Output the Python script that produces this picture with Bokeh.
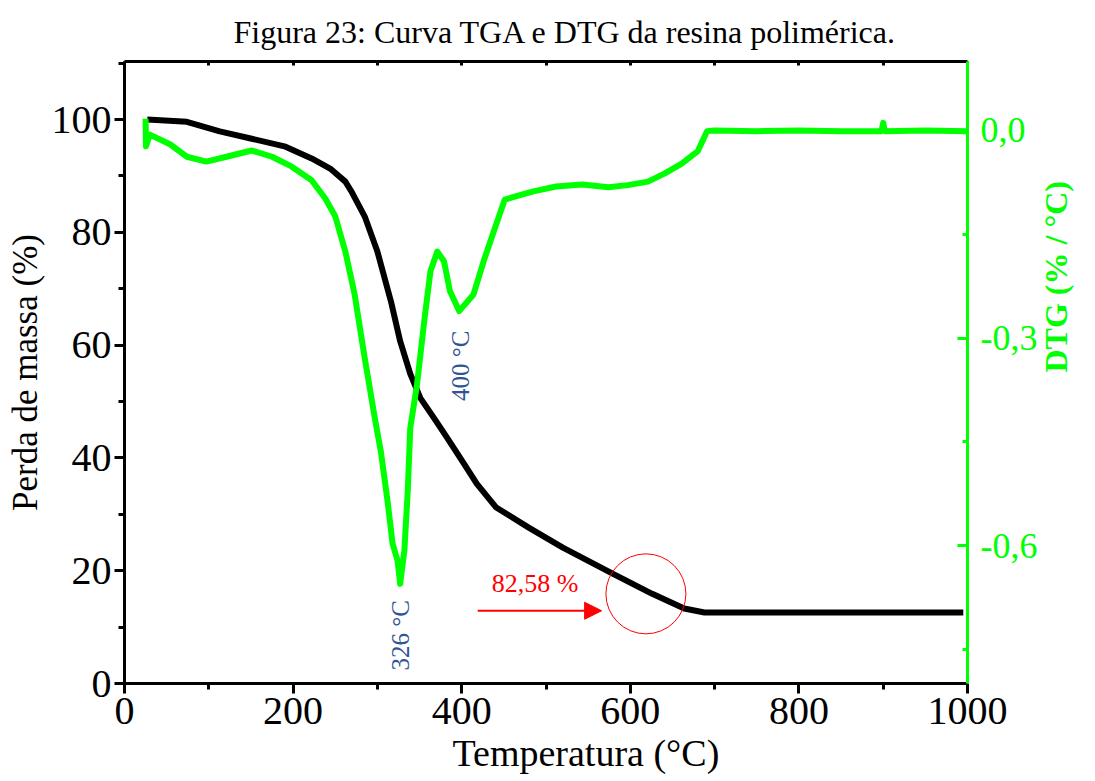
from math import pi

from bokeh.embed import file_html
from bokeh.models import (Arrow, CustomJSTickFormatter, FixedTicker, Label,
                          LinearAxis, NormalHead, Range1d, Title)
from bokeh.plotting import figure
from bokeh.resources import INLINE

# TGA curve: residual mass (%) versus temperature (°C)
temp_tga = [27, 74, 113, 151, 191, 222, 245, 262, 269, 285, 300, 316, 327, 339,
            351, 367, 383, 403, 418, 441, 480, 520, 579, 626, 664, 688, 735, 995]
mass_tga = [100.0, 99.6, 97.9, 96.6, 95.2, 93.1, 91.2, 89.0, 87.3, 82.8, 76.6,
            67.8, 60.7, 54.9, 50.6, 47.1, 43.5, 38.9, 35.4, 31.2, 27.6, 24.1,
            19.5, 15.9, 13.3, 12.6, 12.6, 12.6]

# DTG curve: derivative of mass (% / °C) versus temperature (°C)
temp_dtg = [25, 25.5, 30, 54, 74, 97, 121, 151, 175, 198,
            222, 238, 250, 262, 273, 285, 297, 304, 312, 318,
            324, 327, 332, 336, 339, 347, 356, 363, 371, 379,
            386, 397, 414, 426, 438, 451, 465, 485, 512, 543,
            574, 597, 621, 641, 661, 680, 691, 700, 750, 800,
            850, 898, 900, 902, 950, 1000]
dtg = [0.017, -0.023, -0.006, -0.020, -0.038, -0.045, -0.038, -0.029, -0.038, -0.052,
       -0.072, -0.098, -0.124, -0.175, -0.237, -0.329, -0.416, -0.463, -0.535, -0.597,
       -0.622, -0.655, -0.607, -0.521, -0.430, -0.367, -0.271, -0.203, -0.175, -0.189,
       -0.232, -0.261, -0.237, -0.189, -0.146, -0.100, -0.095, -0.088, -0.081, -0.078,
       -0.082, -0.079, -0.074, -0.062, -0.048, -0.030, -0.001, 0.000, -0.001, 0.000,
       -0.001, -0.001, 0.011, -0.001, 0.000, -0.001]

# Tick positions
x_major = [0, 200, 400, 600, 800, 1000]
x_minor = [100, 300, 500, 700, 900]
y_major = [0, 20, 40, 60, 80, 100]
y_minor = [10, 30, 50, 70, 90, 110]
dtg_major = [-0.6, -0.3, 0.0]
dtg_minor = [-0.75, -0.45, -0.15]

SERIF = "Liberation Serif"
GREEN = "#00FF00"
BLUE = "#2F5496"

p = figure(width=1095, height=781, output_backend="svg", toolbar_location=None,
           x_range=Range1d(0, 1000), y_range=Range1d(0, 110.3),
           min_border_left=124, min_border_right=119,
           min_border_top=60, min_border_bottom=98)
p.extra_y_ranges = {"dtg": Range1d(-0.799, 0.0996)}
p.outline_line_color = None
p.grid.visible = False
p.background_fill_color = "white"
p.border_fill_color = "white"


def style_axis(ax, color, tick_in, tick_out, minor_in, minor_out):
    ax.axis_line_color = color
    ax.axis_line_width = 3
    ax.major_tick_line_color = color
    ax.major_tick_line_width = 3
    ax.minor_tick_line_color = color
    ax.minor_tick_line_width = 3
    ax.major_tick_in = tick_in
    ax.major_tick_out = tick_out
    ax.minor_tick_in = minor_in
    ax.minor_tick_out = minor_out
    ax.major_label_text_font = SERIF
    ax.major_label_text_font_size = "40px"
    ax.major_label_text_color = color
    ax.axis_label_text_font = SERIF
    ax.axis_label_text_font_style = "normal"
    ax.axis_label_text_color = color


# bottom axis
xa = p.xaxis[0]
xa.ticker = FixedTicker(ticks=x_major, minor_ticks=x_minor)
style_axis(xa, "black", 0, 10, 0, 6)
xa.major_label_standoff = 4

# left axis
ya = p.yaxis[0]
ya.ticker = FixedTicker(ticks=y_major, minor_ticks=y_minor)
style_axis(ya, "black", 0, 10, 0, 6)
ya.major_label_standoff = 3
ya.axis_label = "Perda de massa (%)"
ya.axis_label_text_font_size = "35px"
ya.axis_label_standoff = 4

# top frame edge with inward ticks, no labels
top = LinearAxis(ticker=FixedTicker(ticks=x_major, minor_ticks=x_minor))
style_axis(top, "black", 4, 0, 4, 0)
top.formatter = CustomJSTickFormatter(code="return '';")
top.major_label_standoff = 0
p.add_layout(top, "above")

# right DTG axis, its title reading upwards
ra = LinearAxis(y_range_name="dtg",
                ticker=FixedTicker(ticks=dtg_major, minor_ticks=dtg_minor))
style_axis(ra, GREEN, 10, 0, 5, 0)
ra.major_label_text_font_size = "36px"
ra.major_label_standoff = 13
ra.formatter = CustomJSTickFormatter(code="return tick.toFixed(1).replace('.', ',');")
ra.axis_label = "DTG (% / °C)"
ra.axis_label_text_font_size = "32px"
ra.axis_label_text_font_style = "bold"
ra.axis_label_standoff = 16
ra.axis_label_orientation = pi / 2
p.add_layout(ra, "right")

# x axis title, set slightly right of the frame centre
p.add_layout(Title(text="Temperatura (°C)", align="left", offset=328,
                   text_font=SERIF, text_font_size="38px", text_color="black",
                   text_font_style="normal", standoff=6), "below")

# chart title
p.title.text = "Figura 23: Curva TGA e DTG da resina polimérica."
p.title.align = "left"
p.title.offset = 109
p.title.text_font = SERIF
p.title.text_font_size = "32px"
p.title.text_font_style = "normal"
p.title.text_color = "black"
p.title.standoff = 23

# curves
p.line(temp_tga, mass_tga, line_color="black", line_width=6, line_join="round")
p.line(temp_dtg, dtg, y_range_name="dtg", line_color=GREEN, line_width=6,
       line_join="round")

# peak temperatures
p.add_layout(Label(x=327, y=2.3, text="326 °C", angle=pi / 2,
                   text_align="left", text_baseline="middle",
                   text_font=SERIF, text_font_size="25px", text_color=BLUE))
p.add_layout(Label(x=398, y=50.1, text="400 °C", angle=pi / 2,
                   text_align="left", text_baseline="middle",
                   text_font=SERIF, text_font_size="25px", text_color=BLUE))

# total mass loss marker
p.add_layout(Label(x=435.5, y=17.7, text="82,58 %",
                   text_align="left", text_baseline="middle",
                   text_font=SERIF, text_font_size="26px", text_color="red"))
p.add_layout(Arrow(x_start=419, y_start=12.9, x_end=566, y_end=12.9,
                   line_color="red", line_width=2,
                   end=NormalHead(size=17, fill_color="red", line_color="red")))
p.scatter([618.5], [15.9], marker="circle", size=80, fill_color=None,
          line_color="red", line_width=1)

open("out.html", "w").write(file_html(p, INLINE))
